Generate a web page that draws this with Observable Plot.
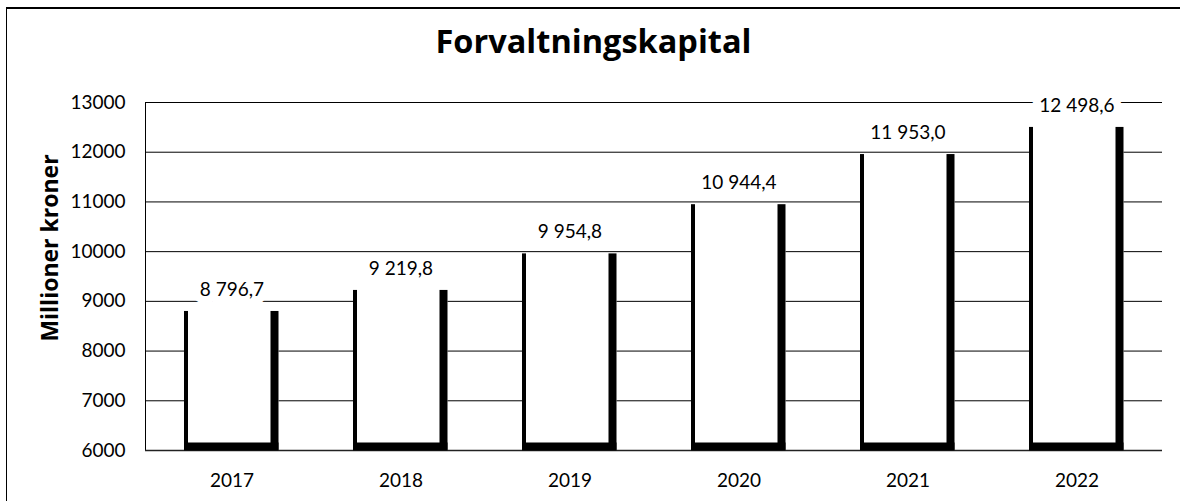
<!DOCTYPE html>
<html>
<head>
<meta charset="utf-8">
<script src="https://cdn.jsdelivr.net/npm/d3@7"></script>
<script src="https://cdn.jsdelivr.net/npm/@observablehq/plot@0.6"></script>
<style>
html, body { margin: 0; padding: 0; background: #fff; overflow: hidden; }
#wrap { position: relative; width: 1180px; height: 501px; font-family: Lato, "Open Sans", sans-serif; color: #000; }
#border { position: absolute; left: 6px; top: 7px; width: 1300px; height: 700px; border-left: 1.5px solid #000; border-top: 2px solid #000; box-sizing: border-box; }
#title { position: absolute; left: 593.5px; top: 23px; transform: translateX(-50%); font-family: "Open Sans", Lato, sans-serif; font-size: 32.5px; line-height: 36px; font-weight: 700; white-space: nowrap; }
#ylabel { position: absolute; left: 49px; top: 248px; transform: translate(-50%, -50%) rotate(-90deg); font-family: "Open Sans", Lato, sans-serif; font-size: 23px; line-height: 26px; font-weight: 700; white-space: nowrap; }
#chart { position: absolute; left: 0; top: 0; }
</style>
</head>
<body>
<div id="wrap">
  <div id="border"></div>
  <div id="chart"></div>
  <div id="title"></div>
  <div id="ylabel"></div>
</div>
<script>
const titleText = "Forvaltningskapital";
const yLabelText = "Millioner kroner";
const years = ["2017", "2018", "2019", "2020", "2021", "2022"];
const values = [8796.7, 9219.8, 9954.8, 10944.4, 11953.0, 12498.6];
const yTicks = [6000, 7000, 8000, 9000, 10000, 11000, 12000, 13000];

document.getElementById("title").textContent = titleText;
document.getElementById("ylabel").textContent = yLabelText;

const fmt = d3.formatLocale({decimal: ",", thousands: "\u00a0", grouping: [3]}).format(",.1f");
const data = years.map((year, i) => ({year, value: values[i]}));
const base = yTicks[0];

const W = 1180, ML = 145, MR = 18;
const band = (W - ML - MR) / years.length;
const inL = 37, inR = 37.5;

const chart = Plot.plot({
  width: W,
  height: 501,
  marginLeft: ML,
  marginRight: MR,
  marginTop: 102,
  marginBottom: 51,
  style: {fontFamily: "Lato, 'Open Sans', sans-serif", fontSize: "19px", color: "#000", background: "transparent", overflow: "visible"},
  x: {type: "band", domain: years, padding: 0, label: null, tickSize: 0, tickPadding: 23},
  y: {domain: [yTicks[0], yTicks[yTicks.length - 1]], ticks: yTicks, tickFormat: d => String(d), label: null, tickSize: 0, tickPadding: 20, line: true},
  marks: [
    Plot.ruleY(yTicks.slice(1), {stroke: "#000", strokeWidth: 1}),
    Plot.ruleY([base], {stroke: "#222", strokeWidth: 1.6}),
    Plot.barY(data, {x: "year", y1: base, y2: "value", fill: "white", insetLeft: inL, insetRight: inR}),
    Plot.barY(data, {x: "year", y1: base, y2: "value", fill: "black", insetLeft: inL, insetRight: band - inL - 4.5}),
    Plot.barY(data, {x: "year", y1: base, y2: "value", fill: "black", insetLeft: band - inR - 8.5, insetRight: inR}),
    Plot.tickY(data, {x: "year", y: base, stroke: "black", strokeWidth: 8, dy: -4, insetLeft: inL, insetRight: inR}),
    Plot.text(data, {x: "year", y: "value", text: d => fmt(d.value), dy: -21.5, fontSize: 19, fill: "black", stroke: "white", strokeWidth: 16, strokeLinejoin: "round", paintOrder: "stroke"})
  ]
});
document.getElementById("chart").appendChild(chart);
</script>
</body>
</html>
